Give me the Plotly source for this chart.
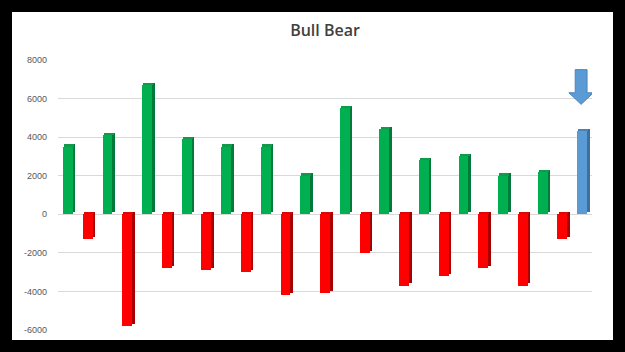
import plotly.graph_objects as go

# ---- data ----
categories = list(range(27))
bull_values = [3500, 4100, 6700, 3900, 3500, 3500, 2000, 5500, 4400, 2800, 3000, 2000, 2200]
bear_values = [-1300, -5800, -2800, -2900, -3000, -4200, -4100, -2000, -3700, -3200, -2800, -3700, -1300]
signal_value = [4300]
y_ticks = [-6000, -4000, -2000, 0, 2000, 4000, 6000, 8000]

bull_x = [categories[2 * i] for i in range(len(bull_values))]
bear_x = [categories[2 * i + 1] for i in range(len(bear_values))]
signal_x = [categories[-1]]

W, H = 625, 352
ML, MR, MT, MB = 58, 33, 60, 22
depth = 120  # pseudo-3D depth in data units

fig = go.Figure()

def add_3d(xs, vals, front, side, top):
    # side / depth face (shifted right & up)
    fig.add_trace(go.Bar(x=xs, y=vals, base=[depth] * len(vals), width=0.5, offset=-0.12,
                         marker=dict(color=side, line=dict(width=0)), hoverinfo="skip", showlegend=False))
    # top face
    tops = [max(v, 0) for v in vals]
    fig.add_trace(go.Bar(x=xs, y=[depth] * len(vals), base=tops, width=0.5, offset=-0.19,
                         marker=dict(color=top, line=dict(width=0)), hoverinfo="skip", showlegend=False))
    # front face
    fig.add_trace(go.Bar(x=xs, y=vals, width=0.5, offset=-0.25,
                         marker=dict(color=front, line=dict(width=0)), showlegend=False))

add_3d(bull_x, bull_values, "#00B050", "#007A3A", "#129A4C")
add_3d(bear_x, bear_values, "#FF0000", "#A80000", "#D80808")
add_3d(signal_x, signal_value, "#5B9BD5", "#3F6F9C", "#4A82B8")

# arrow above the signal bar (computed from data)
cx = signal_x[0] - 0.05
v = signal_value[0]
tip, neck, tail = v + 1400, v + 2000, v + 3200
sw, hw = 0.3, 0.62
path = (f"M {cx - sw} {tail} L {cx + sw} {tail} L {cx + sw} {neck} L {cx + hw} {neck} "
        f"L {cx} {tip} L {cx - hw} {neck} L {cx - sw} {neck} Z")
shapes = [
    # white chart area inside black frame
    dict(type="rect", xref="paper", yref="paper", layer="below",
         x0=(12 - ML) / (W - ML - MR), x1=(613 - ML) / (W - ML - MR),
         y0=(H - MB - 340) / (H - MT - MB), y1=(H - MB - 12) / (H - MT - MB),
         fillcolor="white", line=dict(width=0)),
    dict(type="path", xref="x", yref="y", path=path, fillcolor="#5B9BD5",
         line=dict(color="#4A85BC", width=1)),
]

fig.update_layout(
    width=W, height=H,
    margin=dict(l=ML, r=MR, t=MT, b=MB),
    paper_bgcolor="black",
    plot_bgcolor="rgba(0,0,0,0)",
    barmode="overlay",
    bargap=0,
    shapes=shapes,
    title=dict(text="Bull Bear", x=0.5, xref="paper", xanchor="center", y=1 - 30 / H, yanchor="middle",
               font=dict(family="Open Sans, Noto Sans, sans-serif", size=16, color="#404040", weight=600)),
    xaxis=dict(range=[-0.5, 26.5], showticklabels=False, showgrid=False, zeroline=False,
               showline=False, ticks=""),
    yaxis=dict(range=[-6000, 8000], tickvals=y_ticks, ticktext=[str(t) for t in y_ticks],
               showgrid=True, gridcolor="#D9D9D9", gridwidth=1, zeroline=True, zerolinecolor="#D9D9D9",
               zerolinewidth=1, showline=False, ticks="", ticklabelstandoff=10,
               tickfont=dict(family="Liberation Sans, Arial, sans-serif", size=9, color="#595959")),
)

fig.write_html("out.html")
